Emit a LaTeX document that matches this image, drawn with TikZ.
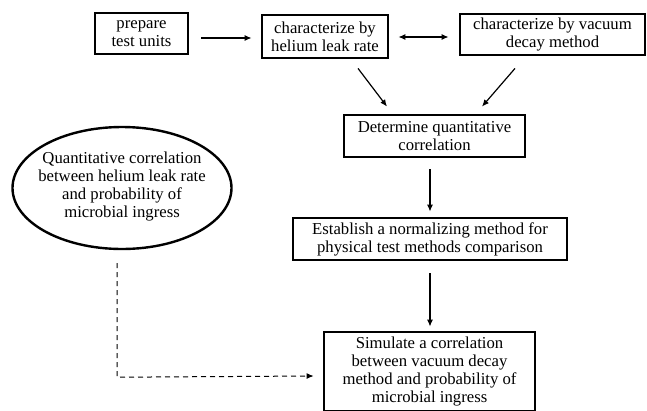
\documentclass[tikz,border=0pt]{standalone}
\usepackage{fontspec}
\setmainfont{Liberation Serif}
\usetikzlibrary{calc,arrows.meta,shapes.geometric}
\begin{document}
\begin{tikzpicture}[x=1pt,y=-1pt,
  txt/.style={inner sep=0pt,align=center,font=\fontsize{16.7}{18}\selectfont},
  box/.style={txt,draw,line width=2.8pt},
  oval/.style={draw,ellipse,line width=2.4pt,inner sep=0pt},
  conn/.style={line width=1.2pt,-{Latex[length=7pt,width=6pt]}},
  dconn/.style={line width=1.2pt,{Latex[length=7pt,width=6pt]}-{Latex[length=7pt,width=6pt]}},
  dashconn/.style={line width=1pt,dash pattern=on 5pt off 4pt,-{Latex[length=7pt,width=6pt]}}]
\useasboundingbox (0,0) rectangle (647,410);
\node[box,minimum width=93pt,minimum height=41pt] (prep) at (141.5,33.5) {prepare\\test units};
\node[box,minimum width=126pt,minimum height=43pt] (hel) at (325,36.5) {characterize by\\helium leak rate};
\node[box,minimum width=185pt,minimum height=41pt] (vac) at (552.5,34.5) {characterize by vacuum\\decay method};
\node[box,minimum width=181pt,minimum height=42pt] (det) at (434.5,136) {Determine quantitative\\correlation};
\node[box,minimum width=274pt,minimum height=42pt] (est) at (430,239) {Establish a normalizing method for\\physical test methods comparison};
\node[box,minimum width=211pt,minimum height=79pt] (sim) at (429.5,371.5) {Simulate a correlation\\between vacuum decay\\method and probability of\\microbial ingress};
\node[oval,minimum width=219pt,minimum height=122pt] (ell) at (122,188) {};
\node[txt] (elltext) at ($(ell.center)+(0,-1)$) {Quantitative correlation\\between helium leak rate\\and probability of\\microbial ingress};
\coordinate (corner) at ($(ell.south)+(-5,127)$);
\draw[conn] ($(prep.east)+(12,4.5)$) -- ($(hel.west)+(-9,1.5)$);
\draw[dconn] ($(hel.east)+(9,0.5)$) -- ($(vac.west)+(-10,2.5)$);
\draw[conn] ($(hel.south)+(33,9)$) -- ($(det.north)+(-47.5,-7)$);
\draw[conn] ($(vac.south)+(-37.5,12)$) -- ($(det.north)+(47.5,-7)$);
\draw[conn] ($(det.south)+(-4.5,11)$) -- ($(est.north)+(0,-5)$);
\draw[conn] ($(est.south)+(0,12)$) -- ($(sim.north)+(0.5,-4)$);
\draw[dashconn] ($(ell.south)+(-5,13)$) -- (corner) -- ($(sim.west)+(-9,4.5)$);
\end{tikzpicture}
\end{document}
